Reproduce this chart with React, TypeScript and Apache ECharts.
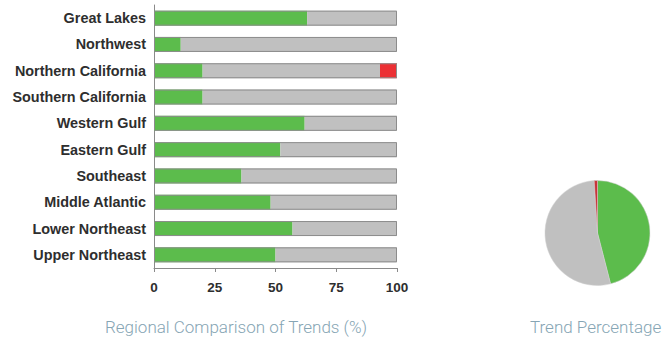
import React, { useEffect, useRef } from "react";
import * as echarts from "echarts";

const regions = [
  "Great Lakes",
  "Northwest",
  "Northern California",
  "Southern California",
  "Western Gulf",
  "Eastern Gulf",
  "Southeast",
  "Middle Atlantic",
  "Lower Northeast",
  "Upper Northeast",
];
const improving = [63, 11, 20, 20, 62, 52, 36, 48, 57, 50];
const stable = [37, 89, 73, 80, 38, 48, 64, 52, 43, 50];
const declining = [0, 0, 7, 0, 0, 0, 0, 0, 0, 0];
const xTicks = [0, 25, 50, 75, 100];

const pieNames = ["Improving", "Stable", "Declining"];
const pieValues = [46, 53, 1];

const GREEN = "#5cbc4c";
const GRAY = "#c0c0c0";
const RED = "#ec3034";

export default function App() {
  const ref = useRef<HTMLDivElement>(null);
  useEffect(() => {
    if (!ref.current) return;
    const chart = echarts.init(ref.current, null, { renderer: "svg" });
    const totals = improving.map((v, i) => v + stable[i] + declining[i]);
    const barW = 15;
    chart.setOption({
      animation: false,
      backgroundColor: "#ffffff",
      grid: { left: 154, right: 268, top: 5, height: 263, containLabel: false },
      xAxis: {
        type: "value",
        min: xTicks[0],
        max: xTicks[xTicks.length - 1],
        interval: 25,
        splitLine: { show: false },
        axisLine: { show: true, lineStyle: { color: "#8a8a8a", width: 1 } },
        axisTick: { show: true, length: 4, lineStyle: { color: "#8a8a8a" } },
        axisLabel: {
          margin: 12,
          color: "#2e2e2e",
          fontFamily: "Liberation Sans",
          fontWeight: "bold",
          fontSize: 13.5,
        },
      },
      yAxis: {
        type: "category",
        data: regions,
        inverse: true,
        axisLine: { show: true, lineStyle: { color: "#8a8a8a", width: 1 } },
        axisTick: { show: false },
        axisLabel: {
          margin: 8,
          color: "#2e2e2e",
          fontFamily: "Liberation Sans",
          fontWeight: "bold",
          fontSize: 14.4,
        },
      },
      series: [
        {
          type: "bar",
          stack: "t",
          barWidth: barW,
          data: improving,
          itemStyle: { color: GREEN },
        },
        {
          type: "bar",
          stack: "t",
          barWidth: barW,
          data: stable,
          itemStyle: { color: GRAY },
        },
        {
          type: "bar",
          stack: "t",
          barWidth: barW,
          data: declining,
          itemStyle: { color: RED },
        },
        {
          type: "bar",
          barWidth: barW,
          barGap: "-100%",
          data: totals,
          z: 5,
          silent: true,
          itemStyle: { color: "transparent", borderColor: "#8c8c8c", borderWidth: 1 },
        },
        {
          type: "pie",
          center: [597.5, 233],
          radius: [0, 52.5],
          startAngle: 90,
          clockwise: true,
          label: { show: false },
          labelLine: { show: false },
          itemStyle: { borderColor: "#d0d0d0", borderWidth: 0.5 },
          data: pieNames.map((n, i) => ({
            name: n,
            value: pieValues[i],
            itemStyle: { color: [GREEN, GRAY, "#c8343a"][i] },
          })),
        },
      ],
      graphic: [
        {
          type: "text",
          left: 105,
          top: 318,
          style: {
            text: "Regional Comparison of Trends (%)",
            fontFamily: "Roboto",
            fontSize: 17,
            fontWeight: 300,
            fill: "#86a5b4",
          },
        },
        {
          type: "text",
          left: 530,
          top: 318,
          style: {
            text: "Trend Percentage",
            fontFamily: "Roboto",
            fontSize: 17,
            fontWeight: 300,
            fill: "#86a5b4",
          },
        },
      ],
    });
    return () => chart.dispose();
  }, []);
  return (
    <div
      ref={ref}
      style={{ position: "fixed", left: 0, top: 0, width: 665, height: 341 }}
    />
  );
}
